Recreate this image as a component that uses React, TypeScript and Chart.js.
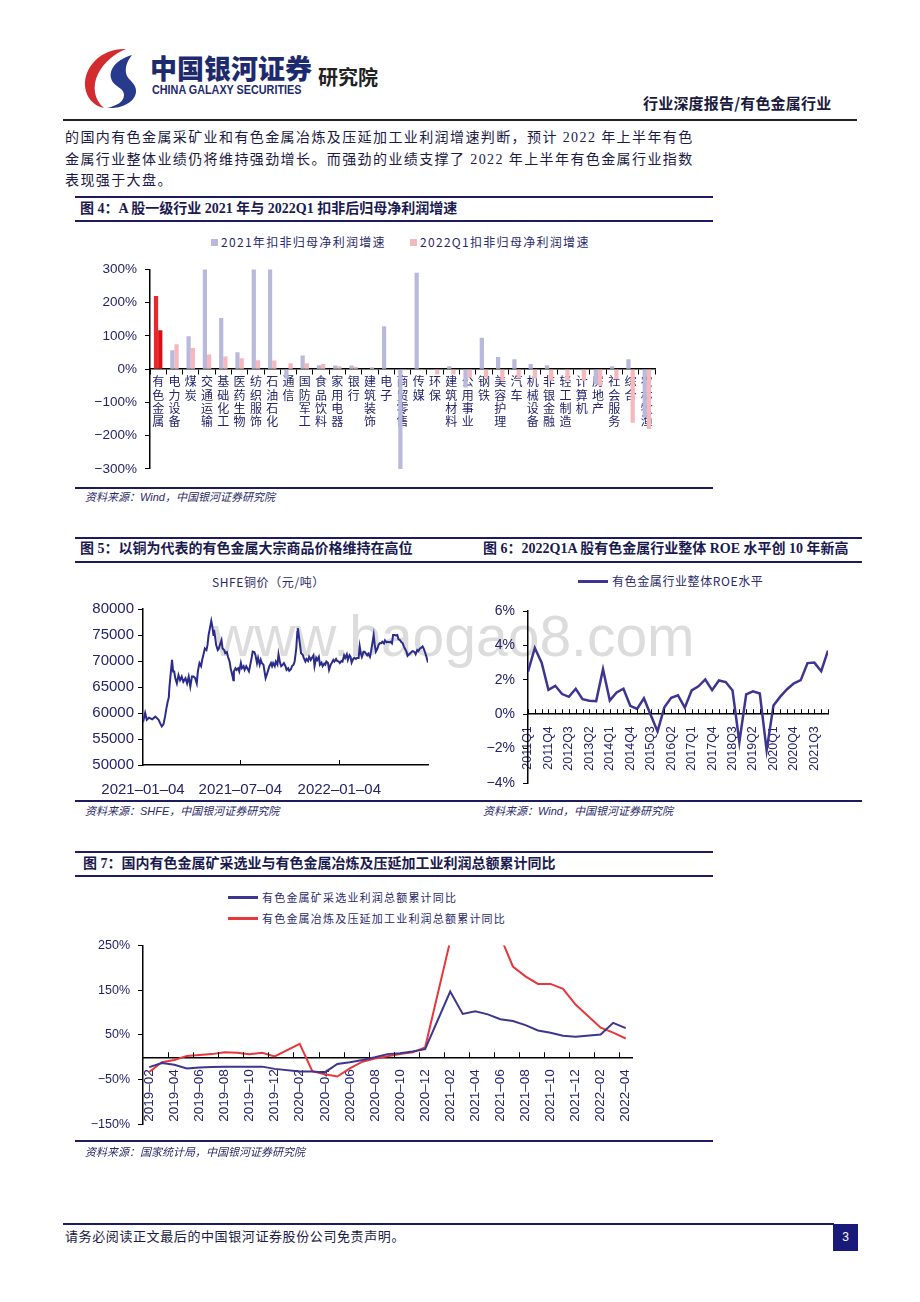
import React, { useEffect, useRef } from 'react';
import { Chart, registerables } from 'chart.js';

Chart.register(...registerables);

// ---------- Figure 4 data ----------
const INDUSTRIES = ['有色金属', '电力设备', '煤炭', '交通运输', '基础化工', '医药生物', '纺织服饰', '石油石化', '通信', '国防军工', '食品饮料', '家用电器', '银行', '建筑装饰', '电子', '商贸零售', '传媒', '环保', '建筑材料', '公用事业', '钢铁', '美容护理', '汽车', '机械设备', '非银金融', '轻工制造', '计算机', '房地产', '社会服务', '综合', '农林牧渔'];
const GROWTH_2021 = [220, 57, 99, 360, 154, 51, 360, 360, -28, 41, 12, 11, 11, 1, 129, -320, 290, 1, 9, -55, 95, 37, 30, 16, 12, 1, -2, -45, 9, 30, -145];
const GROWTH_2022Q1 = [117, 75, 64, 44, 38, 33, 27, 26, 18, 18, 16, 9, 7, 6, -2, -3, -3, -16, -16, -25, -25, -35, -28, -28, -35, -35, -35, -50, -30, -161, -180];
const GROWTH_TICKS = [-300, -200, -100, 0, 100, 200, 300];
const SERIES_4 = ['2021年扣非归母净利润增速', '2022Q1扣非归母净利润增速'];

// ---------- Figure 5 data ----------
const COPPER_DAY = [0, 4, 7, 11, 17, 23, 29, 32, 35, 38, 41, 43, 46, 48, 49, 52, 54, 56, 58, 60, 63, 66, 69, 72, 75, 79, 82, 85, 88, 91, 94, 97, 100, 102, 105, 108, 110, 113, 115, 118, 120, 122, 125, 127, 129, 131, 132, 134, 136, 139, 141, 144, 146, 148, 151, 153, 156, 158, 161, 163, 166, 168, 169, 172, 174, 177, 179, 182, 184, 187, 189, 192, 194, 197, 199, 202, 204, 207, 209, 212, 214, 217, 219, 221, 224, 226, 228, 230, 233, 235, 238, 240, 242, 245, 247, 250, 252, 255, 257, 260, 262, 265, 267, 270, 272, 275, 277, 280, 282, 285, 287, 288, 290, 292, 294, 297, 299, 302, 304, 307, 309, 312, 314, 317, 319, 322, 324, 327, 329, 332, 334, 337, 339, 341, 344, 346, 349, 351, 354, 356, 359, 361, 364, 366, 369, 371, 374, 376, 379, 381, 384, 386, 388, 391, 393, 396, 398, 401, 403, 405, 407, 410, 412, 414, 417, 419, 422, 424, 427, 429, 431, 433, 436, 438, 440, 443, 445, 448, 450, 453, 455, 458, 460, 463, 465, 468, 470, 473, 475, 478, 480, 483, 485, 487, 490, 492, 495, 497, 500, 502, 505, 507, 510, 512, 515, 517, 520, 522, 525, 527, 530];
const COPPER_PRICE = [58200, 60000, 58700, 59100, 58800, 59300, 58700, 58000, 57400, 57800, 59300, 60600, 62200, 63000, 64800, 68100, 70200, 68000, 68000, 66700, 65700, 67300, 66300, 67000, 66000, 66700, 65700, 67000, 65100, 67000, 67000, 66700, 65700, 68000, 69600, 69000, 70200, 71500, 72400, 72100, 73100, 75000, 76600, 77700, 76600, 75000, 76000, 74700, 73100, 72100, 72400, 73400, 74000, 72400, 72100, 71500, 71700, 70800, 69900, 68600, 67300, 66300, 68000, 68600, 68300, 68600, 68000, 69600, 68600, 69000, 68300, 69000, 68600, 68000, 69000, 70600, 71800, 71700, 71200, 69600, 70600, 69300, 70200, 69600, 69300, 68000, 66700, 67300, 68300, 69000, 69600, 69000, 69600, 69000, 69900, 69300, 71300, 69600, 69000, 69300, 69600, 69000, 68300, 68600, 68100, 68400, 69000, 69300, 69900, 72400, 75600, 76300, 74700, 73100, 71500, 71200, 70600, 69900, 70400, 70000, 70800, 70200, 70600, 71100, 69000, 70600, 70200, 70800, 69300, 69700, 69000, 69500, 69300, 69900, 69600, 68300, 69300, 69600, 70200, 69900, 70400, 70000, 69900, 69600, 70000, 69900, 71100, 70600, 71300, 70200, 71100, 70800, 69700, 70400, 70600, 70400, 70600, 70600, 72800, 71500, 70800, 71800, 71800, 71500, 71100, 71400, 70800, 71800, 73700, 75000, 73100, 71800, 72400, 73100, 73400, 73400, 73700, 73400, 74000, 73600, 73700, 73600, 73700, 73400, 75000, 75000, 74900, 75000, 74200, 74000, 73700, 73400, 72800, 72400, 71800, 71000, 71300, 71500, 71800, 71900, 71700, 71300, 72100, 71900, 72400, 72500, 72800, 72400, 71500, 70800, 69700];
const COPPER_TICK_DAYS = [0, 181, 365];
const COPPER_TICK_LABELS = ['2021-01-04', '2021-07-04', '2022-01-04'];
const COPPER_Y_TICKS = [50000, 55000, 60000, 65000, 70000, 75000, 80000];

// ---------- Figure 6 data ----------
const QUARTERS = ['2011Q1', '2011Q2', '2011Q3', '2011Q4', '2012Q1', '2012Q2', '2012Q3', '2012Q4', '2013Q1', '2013Q2', '2013Q3', '2013Q4', '2014Q1', '2014Q2', '2014Q3', '2014Q4', '2015Q1', '2015Q2', '2015Q3', '2015Q4', '2016Q1', '2016Q2', '2016Q3', '2016Q4', '2017Q1', '2017Q2', '2017Q3', '2017Q4', '2018Q1', '2018Q2', '2018Q3', '2018Q4', '2019Q1', '2019Q2', '2019Q3', '2019Q4', '2020Q1', '2020Q2', '2020Q3', '2020Q4', '2021Q1', '2021Q2', '2021Q3', '2021Q4', '2022Q1'];
const ROE = [2.47, 3.85, 3.0, 1.42, 1.65, 1.17, 1.01, 1.48, 0.87, 0.78, 0.76, 2.62, 0.8, 1.26, 1.48, 0.49, 0.31, 0.93, -0.05, -1.0, 0.4, 0.95, 1.1, 0.38, 1.38, 1.62, 2.02, 1.4, 1.96, 1.87, 1.38, -1.62, 1.15, 1.33, 1.2, -2.1, 0.5, 1.02, 1.45, 1.8, 1.98, 2.97, 3.0, 2.5, 3.7];
const ROE_TICKS = [-4, -2, 0, 2, 4, 6];

// ---------- Figure 7 data ----------
const MONTHS = ['2019-02', '2019-03', '2019-04', '2019-05', '2019-06', '2019-07', '2019-08', '2019-09', '2019-10', '2019-11', '2019-12', '2020-01', '2020-02', '2020-03', '2020-04', '2020-05', '2020-06', '2020-07', '2020-08', '2020-09', '2020-10', '2020-11', '2020-12', '2021-01', '2021-02', '2021-03', '2021-04', '2021-05', '2021-06', '2021-07', '2021-08', '2021-09', '2021-10', '2021-11', '2021-12', '2022-01', '2022-02', '2022-03', '2022-04'];
const MINING = [-22, -13, -17, -25, -23, -22, -21, -21, -21, -21, -26, null, -32, -32, -34, -15, -11, -6, 0, 7, 9, 13, 18, null, 147, 97, 103, 96, 85, 81, 72, 60, 55, 48, 46, null, 51, 77, 65];
const SMELTING = [-33, -11, -6, 3, 5, 7, 11, 10, 7, 10, 2, null, 30, -31, -38, -43, -25, -10, -3, 2, 7, 11, 22, null, 260, 340, 320, 300, 270, 203, 181, 164, 164, 153, 118, null, 66, 55, 42];
const PROFIT_TICKS = [-150, -50, 50, 150, 250];
const SERIES_7 = ['有色金属矿采选业利润总额累计同比', '有色金属冶炼及压延加工业利润总额累计同比'];

// ---------- styles ----------
const NAVY = '#23236e';
const RULE = '#1b1b5e';
const TEXT = '#1a1a44';
const SERIF = "'Liberation Serif', 'Noto Sans CJK SC', serif";
const SANS = "'Liberation Sans', 'Noto Sans CJK SC', sans-serif";
const CJK = "'Noto Sans CJK SC', sans-serif";

const fmtPct = (v: number) => (v < 0 ? '\u2212' : '') + Math.abs(v) + '%';
const dash = (s: string) => s.replace(/-/g, '\u2013');

function upTicks(id: string, positions: (c: any) => number[], base: (c: any) => number, len = 5) {
  return {
    id,
    afterDatasetsDraw(chart: any) {
      const ctx = chart.ctx;
      const y0 = base(chart);
      ctx.save();
      ctx.strokeStyle = '#000';
      ctx.lineWidth = 1;
      ctx.beginPath();
      positions(chart).forEach((px) => {
        const x = Math.round(px) + 0.5;
        ctx.moveTo(x, y0);
        ctx.lineTo(x, y0 - len);
      });
      ctx.stroke();
      ctx.restore();
    },
  };
}

const yAxis = (ticks: number[], width: number, size: number, fmt: (v: number) => string, padding = 8) => ({
  min: ticks[0],
  max: ticks[ticks.length - 1],
  afterBuildTicks: (s: any) => { s.ticks = ticks.map((v) => ({ value: v })); },
  afterFit: (s: any) => { s.width = width; },
  grid: { drawOnChartArea: false, drawTicks: true, tickLength: 5, color: '#000' },
  border: { color: '#000', width: 1.5 },
  ticks: { padding, color: NAVY, font: { family: SANS, size }, callback: (v: number) => fmt(v) },
});

const cfg4 = (): any => ({
  type: 'bar',
  data: {
    labels: INDUSTRIES,
    datasets: [
      { label: SERIES_4[0], data: GROWTH_2021, backgroundColor: INDUSTRIES.map((_, i) => (i === 0 ? '#e8282d' : '#b9b9db')), clip: 0, categoryPercentage: 0.52, barPercentage: 1 },
      { label: SERIES_4[1], data: GROWTH_2022Q1, backgroundColor: INDUSTRIES.map((_, i) => (i === 0 ? '#d90f14' : '#f6b8bc')), clip: 0, categoryPercentage: 0.52, barPercentage: 1 },
    ],
  },
  options: {
    responsive: false,
    animation: false,
    layout: { padding: { top: 44.5, right: 58, bottom: 16, left: 0 } },
    plugins: { legend: { display: false }, tooltip: { enabled: false } },
    scales: {
      x: {
        position: { y: 0 },
        grid: { display: true, drawOnChartArea: false, drawTicks: true, tickLength: 5, color: '#000', offset: true },
        border: { color: '#000', width: 1.5 },
        ticks: { autoSkip: false, maxRotation: 0, minRotation: 0, padding: 1, color: NAVY, font: { family: CJK, size: 12, lineHeight: 1.1 }, callback: (_v: any, i: number) => INDUSTRIES[i].split('') },
      },
      y: yAxis(GROWTH_TICKS, 75, 13.5, fmtPct),
    },
  },
});

const cfg5 = (): any => ({
  type: 'line',
  data: {
    datasets: [{ label: 'SHFE铜价（元/吨）', data: COPPER_DAY.map((d, i) => ({ x: d, y: COPPER_PRICE[i] })), borderColor: '#2b2b8c', borderWidth: 2, pointRadius: 0, tension: 0, clip: 0 }],
  },
  options: {
    responsive: false,
    animation: false,
    layout: { padding: { top: 44, right: 47, bottom: 0, left: 0 } },
    plugins: { legend: { display: false }, tooltip: { enabled: false } },
    scales: {
      x: {
        type: 'linear',
        min: 0,
        max: 530,
        afterBuildTicks: (s: any) => { s.ticks = COPPER_TICK_DAYS.map((v) => ({ value: v })); },
        afterFit: (s: any) => { s.height = 35; },
        grid: { display: false },
        border: { color: '#000', width: 1.5 },
        ticks: { padding: 8, maxRotation: 0, color: NAVY, font: { family: SANS, size: 15 }, callback: (_v: any, i: number) => dash(COPPER_TICK_LABELS[i]) },
      },
      y: yAxis(COPPER_Y_TICKS, 68, 15, (v) => String(v), 4),
    },
  },
  plugins: [upTicks('up5', (c) => COPPER_TICK_DAYS.slice(1).map((d) => c.scales.x.getPixelForValue(d)), (c) => c.scales.y.getPixelForValue(COPPER_Y_TICKS[0]))],
});

const cfg6 = (): any => ({
  type: 'line',
  data: {
    labels: QUARTERS,
    datasets: [{ label: '有色金属行业整体ROE水平', data: ROE, borderColor: '#3d3590', borderWidth: 2.5, pointRadius: 0, tension: 0, clip: 0 }],
  },
  options: {
    responsive: false,
    animation: false,
    layout: { padding: { top: 46, right: 35, bottom: 17, left: 0 } },
    plugins: { legend: { display: false }, tooltip: { enabled: false } },
    scales: {
      x: {
        position: { y: 0 },
        grid: { display: false },
        border: { color: '#000', width: 1.5 },
        ticks: { autoSkip: false, minRotation: 90, maxRotation: 90, padding: 4, color: NAVY, font: { family: SANS, size: 12.5 }, callback: (_v: any, i: number) => (i % 3 === 0 ? QUARTERS[i] : '') },
      },
      y: yAxis(ROE_TICKS, 50, 14, fmtPct),
    },
  },
  plugins: [upTicks('up6', (c) => QUARTERS.map((_, i) => c.scales.x.getPixelForValue(i)), (c) => c.scales.y.getPixelForValue(0))],
});

const cfg7 = (): any => ({
  type: 'line',
  data: {
    labels: MONTHS,
    datasets: [
      { label: SERIES_7[0], data: MINING, borderColor: '#3d3590', borderWidth: 2, pointRadius: 0, tension: 0, spanGaps: true, clip: 0 },
      { label: SERIES_7[1], data: SMELTING, borderColor: '#e8373b', borderWidth: 2, pointRadius: 0, tension: 0, spanGaps: true, clip: 0 },
    ],
  },
  options: {
    responsive: false,
    animation: false,
    layout: { padding: { top: 13.7, right: 81, bottom: 20.7, left: 0 } },
    plugins: { legend: { display: false }, tooltip: { enabled: false } },
    scales: {
      x: {
        position: { y: 0 },
        offset: true,
        grid: { display: false, offset: true },
        border: { color: '#000', width: 1.5 },
        ticks: { autoSkip: false, minRotation: 90, maxRotation: 90, padding: 4, color: NAVY, font: { family: SANS, size: 13.5 }, callback: (_v: any, i: number) => (i % 2 === 0 ? dash(MONTHS[i]) : '') },
      },
      y: yAxis(PROFIT_TICKS, 68, 12.5, fmtPct),
    },
  },
  plugins: [
    upTicks(
      'up7',
      (c) => MONTHS.map((_, k) => k).filter((k) => k >= 2 && k % 2 === 0).map((k) => (c.scales.x.getPixelForValue(k - 1) + c.scales.x.getPixelForValue(k)) / 2),
      (c) => c.scales.y.getPixelForValue(0)
    ),
  ],
});

function ChartCanvas({ make, left, top, width, height }: { make: () => any; left: number; top: number; width: number; height: number }) {
  const ref = useRef<HTMLCanvasElement>(null);
  useEffect(() => {
    const chart = new Chart(ref.current as HTMLCanvasElement, make());
    return () => chart.destroy();
  }, []);
  return <canvas ref={ref} width={width} height={height} style={{ position: 'absolute', left, top, width, height }} />;
}

function Txt({ x, cy, size, children, style }: { x: number; cy: number; size: number; children: any; style?: any }) {
  return (
    <div style={{ position: 'absolute', left: x, top: cy - size * 0.6, fontSize: size, lineHeight: `${size * 1.2}px`, whiteSpace: 'nowrap', color: TEXT, ...style }}>
      {children}
    </div>
  );
}

function Rule({ x, y, w, h = 2, c = RULE }: { x: number; y: number; w: number; h?: number; c?: string }) {
  return <div style={{ position: 'absolute', left: x, top: y, width: w, height: h, background: c }} />;
}

const titleStyle = { fontFamily: SERIF, fontWeight: 700, color: '#1a1a50' };
const srcStyle = { fontFamily: SANS, fontStyle: 'italic', color: '#2a2a6a' };
const legStyle = { fontFamily: CJK, color: '#2a2a6a' };

export default function App() {
  return (
    <div style={{ position: 'absolute', left: 0, top: 0, width: 920, height: 1302, background: '#fff', overflow: 'hidden', fontFamily: SERIF }}>
      {/* header */}
      <svg style={{ position: 'absolute', left: 80, top: 46 }} width={62} height={64} viewBox="0 0 62 64">
        <path d="M46 3 C22 2 4 20 5 40 C6 52 14 60 24 62 C14 54 12 40 18 28 C24 16 34 8 46 3 Z" fill="#d42b2f" />
        <path d="M52 9 C38 13 29 22 31 32 C33 41 44 41 44 49 C44 56 36 60 27 62 C42 63 55 56 56 46 C57 37 47 34 46 27 C45 20 48 14 52 9 Z" fill="#283a8c" />
      </svg>
      <Txt x={150} cy={68} size={27} style={{ fontFamily: CJK, fontWeight: 900, color: '#1e2a6e', letterSpacing: 0 }}>中国银河证券</Txt>
      <Txt x={318} cy={77} size={20} style={{ fontFamily: CJK, fontWeight: 700, color: '#222' }}>研究院</Txt>
      <Txt x={152} cy={90} size={12} style={{ fontFamily: "'Liberation Sans Narrow', 'Liberation Sans', sans-serif", fontWeight: 700, color: '#1e2a6e', transform: 'scaleX(0.9)', transformOrigin: 'left' }}>CHINA GALAXY SECURITIES</Txt>
      <Txt x={643} cy={103} size={15} style={{ fontFamily: CJK, fontWeight: 700, color: '#1a1a40', letterSpacing: 0.2 }}>行业深度报告/有色金属行业</Txt>
      <Rule x={63} y={119} w={794} h={2} c="#222" />

      {/* paragraph */}
      <Txt x={65} cy={138.5} size={14} style={{ letterSpacing: 1.4 }}>的国内有色金属采矿业和有色金属冶炼及压延加工业利润增速判断，预计 2022 年上半年有色</Txt>
      <Txt x={65} cy={160} size={14} style={{ letterSpacing: 1.4 }}>金属行业整体业绩仍将维持强劲增长。而强劲的业绩支撑了 2022 年上半年有色金属行业指数</Txt>
      <Txt x={65} cy={181.5} size={14} style={{ letterSpacing: 1.4 }}>表现强于大盘。</Txt>

      {/* Figure 4 */}
      <Rule x={75} y={196} w={638} />
      <Txt x={80} cy={209} size={14} style={titleStyle}>图 4：A 股一级行业 2021 年与 2022Q1 扣非后归母净利润增速</Txt>
      <Rule x={75} y={220} w={638} />
      <div style={{ position: 'absolute', left: 211, top: 239, width: 7, height: 7, background: '#b9b9db' }} />
      <Txt x={221} cy={242.5} size={12} style={{ ...legStyle, letterSpacing: 1.3 }}>{SERIES_4[0]}</Txt>
      <div style={{ position: 'absolute', left: 410, top: 239, width: 7, height: 7, background: '#f6b8bc' }} />
      <Txt x={420} cy={242.5} size={12} style={{ ...legStyle, letterSpacing: 1.3 }}>{SERIES_4[1]}</Txt>
      <ChartCanvas make={cfg4} left={75} top={225} width={638} height={260} />
      <Rule x={75} y={487} w={638} />
      <Txt x={85} cy={498} size={11} style={srcStyle}>资料来源：Wind，中国银河证券研究院</Txt>

      {/* watermark */}
      <div style={{ position: 'absolute', left: 213, top: 606, fontFamily: SANS, fontSize: 57, lineHeight: '60px', color: '#dcdcdc', whiteSpace: 'nowrap' }}>www.baogao8.com</div>

      {/* Figure 5 & 6 */}
      <Rule x={75} y={537} w={787} />
      <Txt x={80} cy={549.5} size={14} style={titleStyle}>图 5：以铜为代表的有色金属大宗商品价格维持在高位</Txt>
      <Txt x={483} cy={549.5} size={14} style={titleStyle}>图 6：2022Q1A 股有色金属行业整体 ROE 水平创 10 年新高</Txt>
      <Rule x={75} y={561} w={787} />
      <Txt x={212} cy={582} size={12} style={{ ...legStyle, letterSpacing: 0.6 }}>SHFE铜价（元/吨）</Txt>
      <ChartCanvas make={cfg5} left={75} top={565} width={400} height={235} />
      <div style={{ position: 'absolute', left: 578, top: 580, width: 30, height: 2.5, background: '#3d3590' }} />
      <Txt x={612} cy={581.5} size={12} style={{ ...legStyle, letterSpacing: 0.6 }}>有色金属行业整体ROE水平</Txt>
      <ChartCanvas make={cfg6} left={478} top={565} width={385} height={235} />
      <Rule x={75} y={800} w={787} />
      <Txt x={85} cy={812} size={11} style={srcStyle}>资料来源：SHFE，中国银河证券研究院</Txt>
      <Txt x={483} cy={812} size={11} style={srcStyle}>资料来源：Wind，中国银河证券研究院</Txt>

      {/* Figure 7 */}
      <Rule x={75} y={851} w={638} />
      <Txt x={83} cy={864} size={14} style={titleStyle}>图 7：国内有色金属矿采选业与有色金属冶炼及压延加工业利润总额累计同比</Txt>
      <Rule x={75} y={875} w={638} />
      <div style={{ position: 'absolute', left: 228, top: 896, width: 30, height: 2.5, background: '#3d3590' }} />
      <Txt x={262} cy={897.5} size={11} style={{ ...legStyle, letterSpacing: 1.2 }}>{SERIES_7[0]}</Txt>
      <div style={{ position: 'absolute', left: 228, top: 917, width: 30, height: 2.5, background: '#e8373b' }} />
      <Txt x={262} cy={918.5} size={11} style={{ ...legStyle, letterSpacing: 1.2 }}>{SERIES_7[1]}</Txt>
      <ChartCanvas make={cfg7} left={75} top={930} width={638} height={215} />
      <Rule x={75} y={1140} w={638} />
      <Txt x={85} cy={1153} size={11} style={srcStyle}>资料来源：国家统计局，中国银河证券研究院</Txt>

      {/* footer */}
      <Rule x={63} y={1223} w={771} h={2} c="#1b1b6e" />
      <div style={{ position: 'absolute', left: 833, top: 1224, width: 25, height: 27, background: '#1a1a7a', color: '#fff', fontFamily: SANS, fontSize: 12, lineHeight: '27px', textAlign: 'center' }}>3</div>
      <Txt x={65} cy={1237} size={13} style={{ letterSpacing: 0.6 }}>请务必阅读正文最后的中国银河证券股份公司免责声明。</Txt>
    </div>
  );
}
